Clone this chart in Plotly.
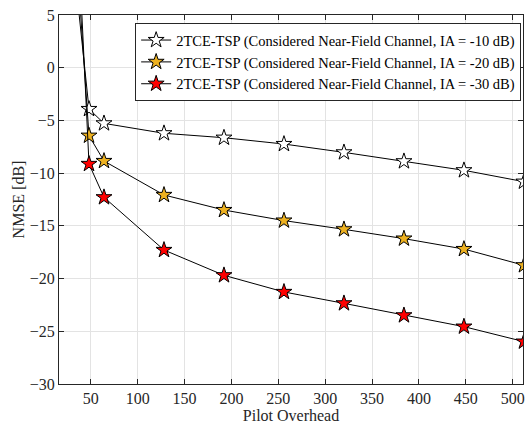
import plotly.graph_objects as go

pilot = [32, 48, 64, 128, 192, 256, 320, 384, 448, 512]
nmse_10 = [9.7, -3.92, -5.28, -6.22, -6.64, -7.24, -8.03, -8.88, -9.73, -10.81]
nmse_20 = [14.2, -6.45, -8.85, -12.07, -13.5, -14.5, -15.33, -16.21, -17.2, -18.74]
nmse_30 = [20.7, -9.13, -12.29, -17.29, -19.69, -21.27, -22.35, -23.49, -24.56, -25.98]
names = [
    "2TCE-TSP (Considered Near-Field Channel, IA = -10 dB)",
    "2TCE-TSP (Considered Near-Field Channel, IA = -20 dB)",
    "2TCE-TSP (Considered Near-Field Channel, IA = -30 dB)",
]
colors = ["#FFFFFF", "#EDB120", "#FF0000"]
xticks = [50, 100, 150, 200, 250, 300, 350, 400, 450, 500]
yticks = [-30, -25, -20, -15, -10, -5, 0, 5]

FONT = "Liberation Serif, Times New Roman, serif"
fig = go.Figure()
for ys, nm, c in zip([nmse_10, nmse_20, nmse_30], names, colors):
    fig.add_trace(go.Scatter(
        x=pilot, y=ys, name=nm, mode="lines+markers",
        line=dict(color="black", width=1),
        marker=dict(symbol="star", size=12, color=c, line=dict(color="black", width=1)),
    ))

axis_common = dict(
    showline=True, linecolor="#262626", linewidth=1, mirror="ticks",
    ticks="inside", ticklen=5, tickcolor="#262626",
    showgrid=True, gridcolor="#e3e3e3", gridwidth=1, zeroline=False,
    tickfont=dict(family=FONT, size=16, color="#262626"),
    ticklabeloverflow="allow",
)
fig.update_xaxes(range=[16, 511], tickvals=xticks,
                 title=dict(text="Pilot Overhead", font=dict(family=FONT, size=16, color="#262626"), standoff=2),
                 **axis_common)
fig.update_yaxes(range=[-30, 5], tickvals=yticks,
                 title=dict(text="NMSE [dB]", font=dict(family=FONT, size=16, color="#262626"), standoff=1),
                 **axis_common)
fig.update_layout(
    width=525, height=425,
    margin=dict(l=59, r=0, t=15, b=41),
    plot_bgcolor="white", paper_bgcolor="white",
    font=dict(family=FONT, color="#262626"),
    legend=dict(
        x=0.996, y=0.978, xanchor="right", yanchor="top",
        bgcolor="white", bordercolor="#262626", borderwidth=1,
        font=dict(family=FONT, size=14.5, color="black"),
        tracegroupgap=0, itemwidth=30,
    ),
)
fig.write_html("out.html")
